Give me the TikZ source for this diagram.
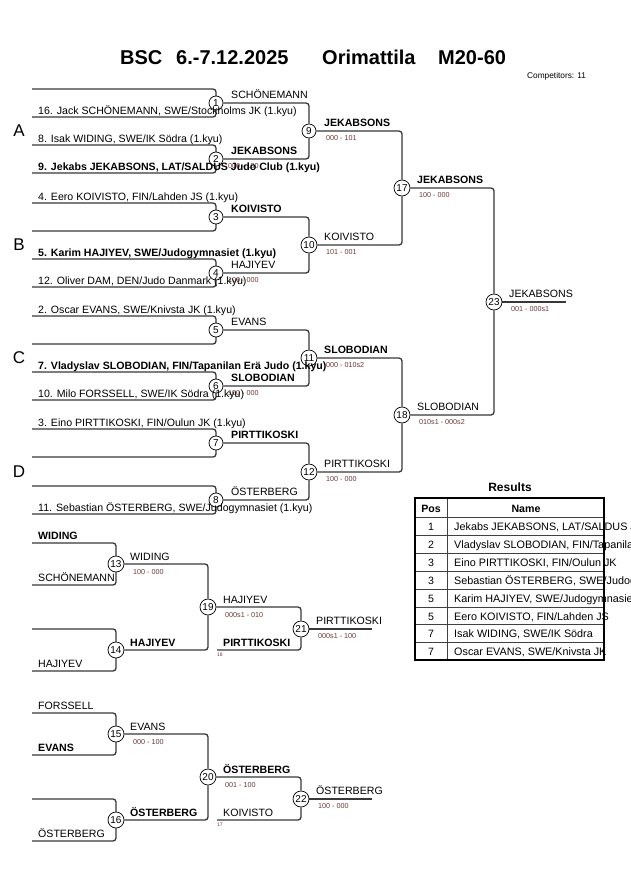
\documentclass[tikz,border=0pt]{standalone}
\usepackage{fontspec}
\setmainfont{Liberation Sans}
\definecolor{scorecol}{RGB}{110,55,55}
\pgfdeclarelayer{background}
\pgfsetlayers{background,main}
\tikzset{
  ln/.style={draw=black!78, line width=1.3pt, rounded corners=3pt},
  mc/.style={circle, draw=black, line width=0.7pt, fill=white, inner sep=0pt, minimum size=14pt, font=\fontsize{10}{10}\selectfont},
  mcc/.style={mc, minimum size=16pt},
  nm/.style={anchor=base west, inner sep=0pt, font=\fontsize{10.6}{12}\selectfont},
  nmb/.style={anchor=base west, inner sep=0pt, font=\fontsize{10.6}{12}\selectfont\bfseries},
  sc/.style={anchor=base west, inner sep=0pt, font=\fontsize{7.2}{8}\selectfont, text=scorecol},
  tiny/.style={anchor=base west, inner sep=0pt, font=\fontsize{5}{6}\selectfont, text=scorecol},
  ttl/.style={anchor=base west, inner sep=0pt, font=\fontsize{20}{24}\selectfont\bfseries},
  grp/.style={anchor=center, inner sep=0pt, font=\fontsize{17}{20}\selectfont},
  tb/.style={anchor=base, inner sep=0pt, font=\fontsize{10.6}{12}\selectfont},
  tbn/.style={anchor=base west, inner sep=0pt, font=\fontsize{10.8}{12}\selectfont},
  tbh/.style={anchor=base, inner sep=0pt, font=\fontsize{10.6}{12}\selectfont\bfseries},
}
\begin{document}
\begin{tikzpicture}[x=1pt,y=-1pt]
\useasboundingbox (0,0) rectangle (630,891);

% title
\node[ttl] (t1) at (120,65) {BSC};
\node[ttl] (t2) at (176,65) {6.-7.12.2025};
\node[ttl] (t3) at (322,65) {Orimattila};
\node[ttl] (t4) at (438,65) {M20-60};
\node[anchor=base west, inner sep=0pt, font=\fontsize{8.3}{10}\selectfont] (comp) at (527,78) {Competitors: 11};

% group letters
\node[grp] (gA) at (19,131) {A};
\node[grp] (gB) at (19,245) {B};
\node[grp] (gC) at (19,358) {C};
\node[grp] (gD) at (19,472) {D};

% match circles main bracket
\node[mc] (c1) at (216,103) {1};
\node[mc] (c2) at (216,159) {2};
\node[mc] (c3) at (216,217) {3};
\node[mc] (c4) at (216,273) {4};
\node[mc] (c5) at (216,330) {5};
\node[mc] (c6) at (216,386) {6};
\node[mc] (c7) at (216,443) {7};
\node[mc] (c8) at (216,500) {8};
\node[mc] (c9) at (309,131) {9};
\node[mcc] (c10) at (309,245) {10};
\node[mcc] (c11) at (309,358) {11};
\node[mcc] (c12) at (309,472) {12};
\node[mcc] (c17) at (402,188) {17};
\node[mcc] (c18) at (402,415) {18};
\node[mcc] (c23) at (494,302) {23};
\coordinate (e23) at (566,302);

% repechage circles
\node[mcc] (c13) at (116,564) {13};
\node[mcc] (c14) at (116,650) {14};
\node[mcc] (c15) at (116,734) {15};
\node[mcc] (c16) at (116,820) {16};
\node[mcc] (c19) at (208,607) {19};
\node[mcc] (c20) at (208,777) {20};
\node[mcc] (c21) at (301,629) {21};
\node[mcc] (c22) at (301,799) {22};
\coordinate (f18) at (217,650);
\coordinate (f17) at (217,820);
\coordinate (e21) at (372,629);
\coordinate (e22) at (372,799);

% bracket free ends
\coordinate (m1t) at (32,89);  \coordinate (m1b) at (32,117);
\coordinate (m2t) at (32,145); \coordinate (m2b) at (32,173);
\coordinate (m3t) at (32,203); \coordinate (m3b) at (32,231);
\coordinate (m4t) at (32,259); \coordinate (m4b) at (32,287);
\coordinate (m5t) at (32,316); \coordinate (m5b) at (32,344);
\coordinate (m6t) at (32,372); \coordinate (m6b) at (32,400);
\coordinate (m7t) at (32,429); \coordinate (m7b) at (32,457);
\coordinate (m8t) at (32,486); \coordinate (m8b) at (32,514);
\coordinate (r13t) at (32,543); \coordinate (r13b) at (32,585);
\coordinate (r14t) at (32,629); \coordinate (r14b) at (32,671);
\coordinate (r15t) at (32,713); \coordinate (r15b) at (32,755);
\coordinate (r16t) at (32,799); \coordinate (r16b) at (32,841);

\begin{pgfonlayer}{background}
\foreach \i in {1,...,8} {
  \draw[ln] (m\i t) -| (c\i.center) |- (m\i b);
}
\foreach \i in {13,14,15,16} {
  \draw[ln] (r\i t) -| (c\i.center) |- (r\i b);
}
\draw[ln] (c1) -| (c9);  \draw[ln] (c2) -| (c9);
\draw[ln] (c3) -| (c10); \draw[ln] (c4) -| (c10);
\draw[ln] (c5) -| (c11); \draw[ln] (c6) -| (c11);
\draw[ln] (c7) -| (c12); \draw[ln] (c8) -| (c12);
\draw[ln] (c9) -| (c17); \draw[ln] (c10) -| (c17);
\draw[ln] (c11) -| (c18); \draw[ln] (c12) -| (c18);
\draw[ln] (c17) -| (c23); \draw[ln] (c18) -| (c23);
\draw[ln] (c23) -- (e23);
\draw[ln] (c13) -| (c19); \draw[ln] (c14) -| (c19);
\draw[ln] (c19) -| (c21); \draw[ln] (f18) -| (c21);
\draw[ln] (c21) -- (e21);
\draw[ln] (c15) -| (c20); \draw[ln] (c16) -| (c20);
\draw[ln] (c20) -| (c22); \draw[ln] (f17) -| (c22);
\draw[ln] (c22) -- (e22);
\end{pgfonlayer}

% scores hidden under names (drawn first)
\node[sc] (s2) at (228,168) {000 - 100};
\node[sc] (s4) at (228,282) {100 - 000};
\node[sc] (s6) at (228,395) {100 - 000};

% entrants round 1
\node[nm] (n16) at (38,114) {16. Jack SCHÖNEMANN, SWE/Stockholms JK (1.kyu)};
\node[nm] (n8) at (38,142) {8. Isak WIDING, SWE/IK Södra (1.kyu)};
\node[nmb] (n9) at (38,170) {9. Jekabs JEKABSONS, LAT/SALDUS Judo Club (1.kyu)};
\node[nm] (n4) at (38,200) {4. Eero KOIVISTO, FIN/Lahden JS (1.kyu)};
\node[nmb] (n5) at (38,256) {5. Karim HAJIYEV, SWE/Judogymnasiet (1.kyu)};
\node[nm] (n12) at (38,284) {12. Oliver DAM, DEN/Judo Danmark (1.kyu)};
\node[nm] (n2) at (38,313) {2. Oscar EVANS, SWE/Knivsta JK (1.kyu)};
\node[nmb] (n7) at (38,369) {7. Vladyslav SLOBODIAN, FIN/Tapanilan Erä Judo (1.kyu)};
\node[nm] (n10) at (38,397) {10. Milo FORSSELL, SWE/IK Södra (1.kyu)};
\node[nm] (n3) at (38,426) {3. Eino PIRTTIKOSKI, FIN/Oulun JK (1.kyu)};
\node[nm] (n11) at (38,511) {11. Sebastian ÖSTERBERG, SWE/Judogymnasiet (1.kyu)};

% round 1 winners
\node[nm] (w1) at (231,98.5) {SCHÖNEMANN};
\node[nmb] (w2) at (231,154.5) {JEKABSONS};
\node[nmb] (w3) at (231,212.5) {KOIVISTO};
\node[nm] (w4) at (231,268.5) {HAJIYEV};
\node[nm] (w5) at (231,325.5) {EVANS};
\node[nmb] (w6) at (231,381.5) {SLOBODIAN};
\node[nmb] (w7) at (231,438.5) {PIRTTIKOSKI};
\node[nm] (w8) at (231,495.5) {ÖSTERBERG};

% round 2
\node[nmb] (w9) at (324,126.5) {JEKABSONS};
\node[sc] (s9) at (326,140.5) {000 - 101};
\node[nm] (w10) at (324,240.5) {KOIVISTO};
\node[sc] (s10) at (326,254.5) {101 - 001};
\node[nmb] (w11) at (324,353.5) {SLOBODIAN};
\node[sc] (s11) at (326,367.5) {000 - 010s2};
\node[nm] (w12) at (324,467.5) {PIRTTIKOSKI};
\node[sc] (s12) at (326,481.5) {100 - 000};

% round 3
\node[nmb] (w17) at (417,183.5) {JEKABSONS};
\node[sc] (s17) at (419,197.5) {100 - 000};
\node[nm] (w18) at (417,410.5) {SLOBODIAN};
\node[sc] (s18) at (419,424.5) {010s1 - 000s2};

% final
\node[nm] (w23) at (509,297.5) {JEKABSONS};
\node[sc] (s23) at (511,311.5) {001 - 000s1};

% repechage entrants
\node[nmb] (q1) at (38,539) {WIDING};
\node[nm] (q2) at (38,581) {SCHÖNEMANN};
\node[nm] (q3) at (38,667) {HAJIYEV};
\node[nm] (q4) at (38,709) {FORSSELL};
\node[nmb] (q5) at (38,751) {EVANS};
\node[nm] (q6) at (38,837) {ÖSTERBERG};

\node[nm] (w13) at (130,560) {WIDING};
\node[sc] (s13) at (133,574) {100 - 000};
\node[nmb] (w14) at (130,646) {HAJIYEV};
\node[nm] (w15) at (130,730) {EVANS};
\node[sc] (s15) at (133,744) {000 - 100};
\node[nmb] (w16) at (130,816) {ÖSTERBERG};

\node[nm] (w19) at (223,603) {HAJIYEV};
\node[sc] (s19) at (225,617) {000s1 - 010};
\node[nmb] (i21) at (223,646) {PIRTTIKOSKI};
\node[tiny] (k18) at (217,656) {18};
\node[nm] (w21) at (316,624.5) {PIRTTIKOSKI};
\node[sc] (s21) at (318,638.5) {000s1 - 100};

\node[nmb] (w20) at (223,773) {ÖSTERBERG};
\node[sc] (s20) at (225,787) {001 - 100};
\node[nm] (i22) at (223,816) {KOIVISTO};
\node[tiny] (k17) at (217,826) {17};
\node[nm] (w22) at (316,794.5) {ÖSTERBERG};
\node[sc] (s22) at (318,808.5) {100 - 000};

% results table
\node[anchor=base, inner sep=0pt, font=\fontsize{12}{14}\selectfont\bfseries] (res) at (510,491) {Results};
\foreach \yy in {517,535,553,571,589,607,624.5,642} {
  \draw[black!75, line width=0.9pt] (415,\yy) -- (604,\yy);
}
\draw[black!75, line width=0.9pt] (447,498) -- (447,660);
\draw[black, line width=1.6pt] (415,498) rectangle (604,660);
\node[tbh] (hp) at (431,512) {Pos};
\node[tbh] (hn) at (526,512) {Name};
\node[tb] (p1) at (431,530.5) {1};
\node[tbn] (r1) at (454,530.5) {Jekabs JEKABSONS, LAT/SALDUS Judo Club};
\node[tb] (p2) at (431,548.5) {2};
\node[tbn] (r2) at (454,548.5) {Vladyslav SLOBODIAN, FIN/Tapanilan Erä Judo};
\node[tb] (p3) at (431,566.5) {3};
\node[tbn] (r3) at (454,566.5) {Eino PIRTTIKOSKI, FIN/Oulun JK};
\node[tb] (p4) at (431,584.5) {3};
\node[tbn] (r4) at (454,584.5) {Sebastian ÖSTERBERG, SWE/Judogymnasiet};
\node[tb] (p5) at (431,602.5) {5};
\node[tbn] (r5) at (454,602.5) {Karim HAJIYEV, SWE/Judogymnasiet};
\node[tb] (p6) at (431,620) {5};
\node[tbn] (r6) at (454,620) {Eero KOIVISTO, FIN/Lahden JS};
\node[tb] (p7) at (431,637.5) {7};
\node[tbn] (r7) at (454,637.5) {Isak WIDING, SWE/IK Södra};
\node[tb] (p8) at (431,655.5) {7};
\node[tbn] (r8) at (454,655.5) {Oscar EVANS, SWE/Knivsta JK};
\end{tikzpicture}
\end{document}
